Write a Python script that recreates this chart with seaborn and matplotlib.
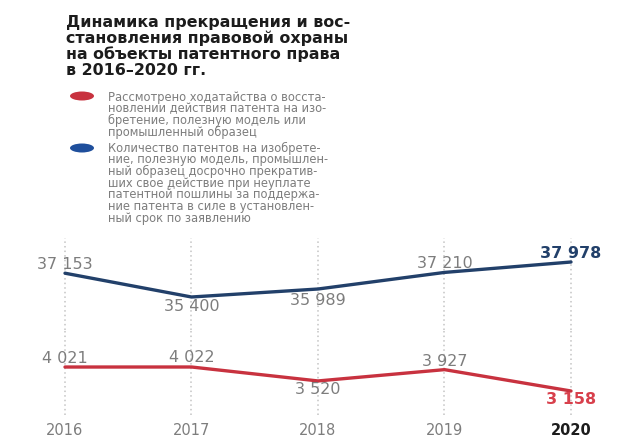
import matplotlib
matplotlib.use("Agg")
import matplotlib.pyplot as plt
from matplotlib.patches import Ellipse
import pandas as pd
import seaborn as sns

# --- data -------------------------------------------------------------
years = [2016, 2017, 2018, 2019, 2020]
terminated_patents = [37153, 35400, 35989, 37210, 37978]   # blue series
restoration_requests = [4021, 4022, 3520, 3927, 3158]      # red series
year_labels = ["2016", "2017", "2018", "2019", "2020"]

title_lines = [
    "Динамика прекращения и вос-",
    "становления правовой охраны",
    "на объекты патентного права",
    "в 2016–2020 гг.",
]
legend_red_lines = [
    "Рассмотрено ходатайства о восста-",
    "новлении действия патента на изо-",
    "бретение, полезную модель или",
    "промышленный образец",
]
legend_blue_lines = [
    "Количество патентов на изобрете-",
    "ние, полезную модель, промышлен-",
    "ный образец досрочно прекратив-",
    "ших свое действие при неуплате",
    "патентной пошлины за поддержа-",
    "ние патента в силе в установлен-",
    "ный срок по заявлению",
]

# --- style ------------------------------------------------------------
sns.set_theme(style="white")
plt.rcParams["font.family"] = ["DejaVu Sans"]

RED = "#c8323f"
RED_LABEL = "#d8404c"
BLUE = "#22406a"
BLUE_DOT = "#1f4f9c"
GREY = "#7d7d7d"
GRID = "#c4c4c4"

W, H = 623, 437
fig = plt.figure(figsize=(W / 100, H / 100), dpi=100)
fig.patch.set_facecolor("white")


def fx(px):
    return px / W


def fy(py):
    return 1 - py / H


# --- heading, one text per line -----------------------------------------
for i, line in enumerate(title_lines):
    fig.text(fx(66), fy(22 + i * 16.2), line, fontsize=11.4,
             fontweight="bold", color="#1c1c1c", ha="left", va="center")

# --- legend -----------------------------------------------------------
fig.add_artist(Ellipse((fx(82), fy(96)), width=fx(24), height=9 / H,
                       transform=fig.transFigure, color=RED, lw=0))
fig.add_artist(Ellipse((fx(82), fy(148)), width=fx(24), height=9 / H,
                       transform=fig.transFigure, color=BLUE_DOT, lw=0))
for i, line in enumerate(legend_red_lines):
    fig.text(fx(108), fy(97 + i * 11.7), line, fontsize=8.3, color=GREY,
             ha="left", va="center")
for i, line in enumerate(legend_blue_lines):
    fig.text(fx(108), fy(148 + i * 11.7), line, fontsize=8.3, color=GREY,
             ha="left", va="center")

# --- chart: two stacked panels with their own value scales ------------
xlim = (2016 - 65 / 126.5, 2016 + (W - 65) / 126.5)
ax_top = fig.add_axes([0, fy(330), 1, (330 - 238) / H])
ax_bot = fig.add_axes([0, fy(415), 1, (415 - 330) / H])

df = pd.DataFrame({
    "year": years,
    "terminated": terminated_patents,
    "restored": restoration_requests,
})

sns.lineplot(data=df, x="year", y="terminated", ax=ax_top, color=BLUE,
             lw=2.4, solid_capstyle="round")
sns.lineplot(data=df, x="year", y="restored", ax=ax_bot, color=RED,
             lw=2.4, solid_capstyle="round")

ax_top.set_ylim(32969, 39746)
ax_bot.set_ylim(2294, 5354)

for ax in (ax_top, ax_bot):
    ax.set_xlim(*xlim)
    ax.set_xticks(years)
    ax.set_yticks([])
    ax.set_xlabel("")
    ax.set_ylabel("")
    ax.set_facecolor("none")
    for s in ax.spines.values():
        s.set_visible(False)
    ax.grid(axis="x", color=GRID, linestyle=(0, (1, 2)), lw=1.1)
    ax.set_axisbelow(True)
    ax.tick_params(axis="x", length=0)

ax_top.set_xticklabels([])
ax_bot.set_xticklabels(year_labels, fontsize=10.5, color=GREY)
ax_bot.tick_params(axis="x", pad=6)
last = ax_bot.get_xticklabels()[-1]
last.set_fontweight("bold")
last.set_color("#1c1c1c")


def fmt(v):
    return f"{v:,}".replace(",", " ")


# vertical offsets (pixels) of value labels relative to each point
top_offsets = [9, -10, -11, 9, 9]
bot_offsets = [9, 9, -9, 8, -8]

for i, (yr, v) in enumerate(zip(years, terminated_patents)):
    last_pt = i == len(years) - 1
    ax_top.annotate(fmt(v), (yr, v), xytext=(0, top_offsets[i]),
                    textcoords="offset pixels", ha="center", va="center",
                    fontsize=11.5, color=BLUE if last_pt else GREY,
                    fontweight="bold" if last_pt else "normal")

for i, (yr, v) in enumerate(zip(years, restoration_requests)):
    last_pt = i == len(years) - 1
    ax_bot.annotate(fmt(v), (yr, v), xytext=(0, bot_offsets[i]),
                    textcoords="offset pixels", ha="center", va="center",
                    fontsize=11.5, color=RED_LABEL if last_pt else GREY,
                    fontweight="bold" if last_pt else "normal")

fig.savefig("out.png", dpi=100, facecolor="white")
